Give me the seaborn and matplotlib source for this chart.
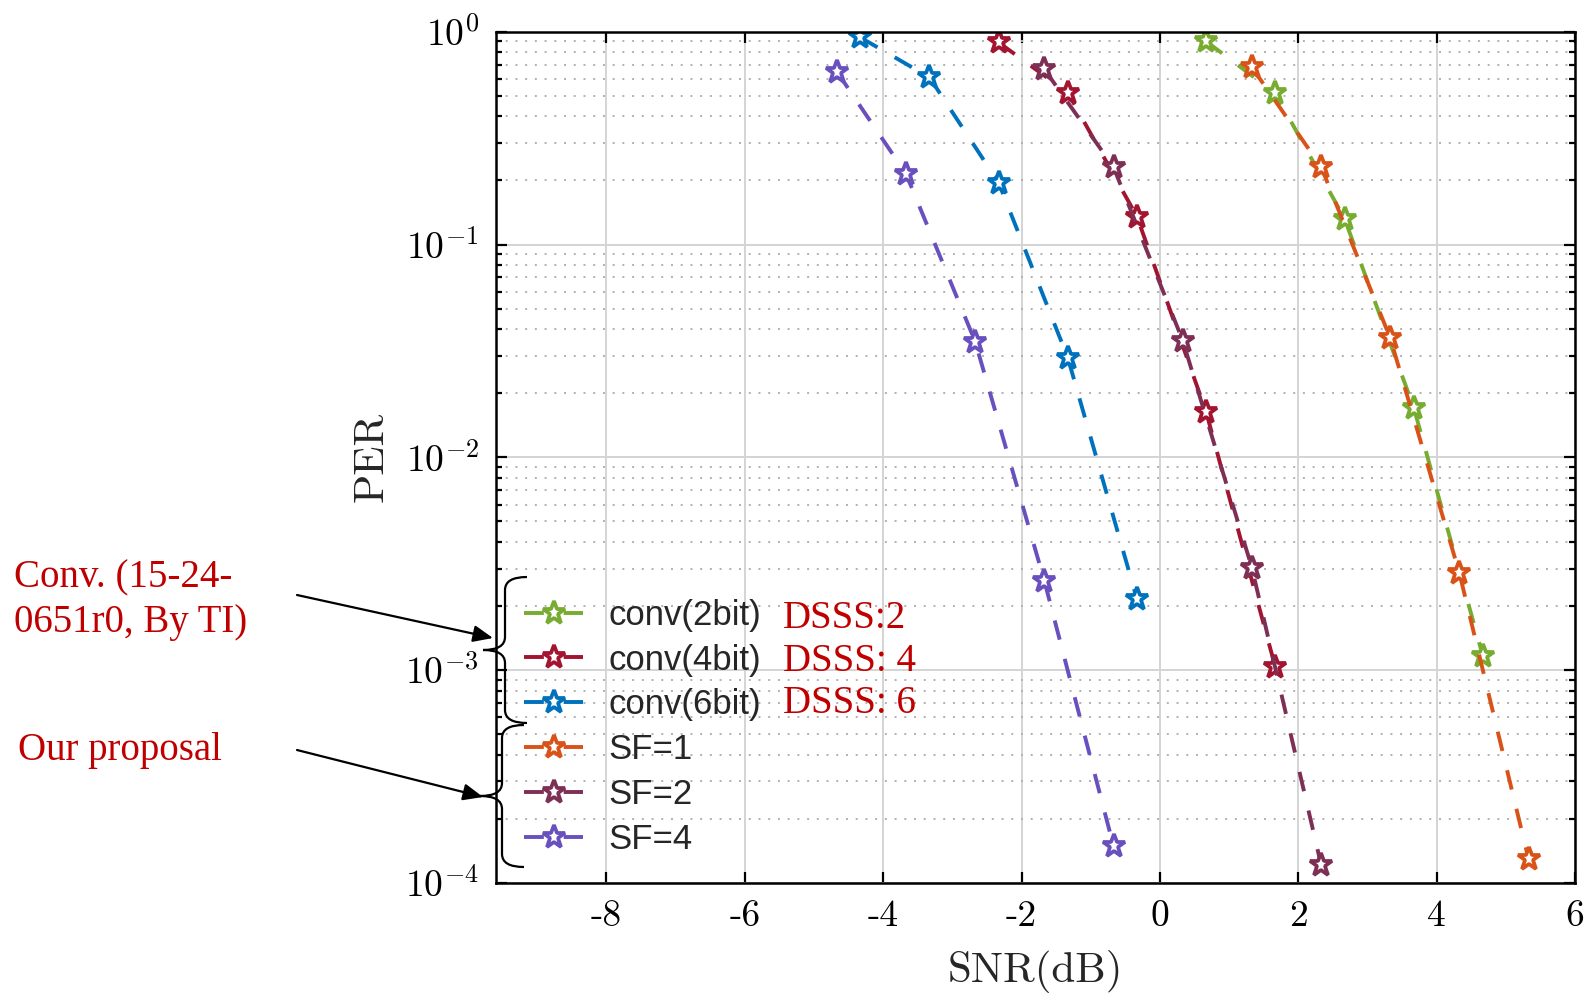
import numpy as np
import pandas as pd
import seaborn as sns
import matplotlib.pyplot as plt
from matplotlib.patches import FancyArrowPatch, PathPatch
from matplotlib.path import Path
from matplotlib.ticker import LogLocator, NullFormatter

# PER curves
snr_conv2 = [0.67, 1.67, 2.67, 3.67, 4.67]
per_conv2 = [0.90, 0.514, 0.132, 0.0171, 0.00116]
snr_conv4 = [-2.33, -1.33, -0.33, 0.67, 1.67]
per_conv4 = [0.89, 0.517, 0.135, 0.0163, 0.00103]
snr_conv6 = [-4.33, -3.33, -2.33, -1.33, -0.33]
per_conv6 = [0.94, 0.61, 0.195, 0.0293, 0.00215]
snr_sf1 = [1.33, 2.33, 3.33, 4.33, 5.33]
per_sf1 = [0.68, 0.232, 0.0363, 0.00285, 1.29e-4]
snr_sf2 = [-1.67, -0.67, 0.33, 1.33, 2.33]
per_sf2 = [0.666, 0.231, 0.0354, 0.00303, 1.22e-4]
snr_sf4 = [-4.67, -3.67, -2.67, -1.67, -0.67]
per_sf4 = [0.65, 0.215, 0.035, 0.00263, 1.49e-4]

series_names = ['conv(2bit)', 'conv(4bit)', 'conv(6bit)', 'SF=1', 'SF=2', 'SF=4']
series_snr = [snr_conv2, snr_conv4, snr_conv6, snr_sf1, snr_sf2, snr_sf4]
series_per = [per_conv2, per_conv4, per_conv6, per_sf1, per_sf2, per_sf4]
series_colors = ['#77AC30', '#A2142F', '#0072BD', '#D95319', '#7E2F55', '#6A50BE']

xticks = [-8, -6, -4, -2, 0, 2, 4, 6]
xtick_labels = ['-8', '-6', '-4', '-2', '0', '2', '4', '6']
yticks = [1e-4, 1e-3, 1e-2, 1e-1, 1e0]
ytick_labels = [r'$10^{-4}$', r'$10^{-3}$', r'$10^{-2}$', r'$10^{-1}$', r'$10^{0}$']

dsss_labels = ['DSSS:2', 'DSSS: 4', 'DSSS: 6']
note_conv = 'Conv. (15-24-\n0651r0, By TI)'
note_ours = 'Our proposal'

sns.set_style('ticks')
plt.rcParams['mathtext.fontset'] = 'cm'
plt.rcParams['axes.unicode_minus'] = False
plt.rcParams['font.family'] = ['DejaVu Sans']

W, H = 1588, 993
fig = plt.figure(figsize=(W / 100, H / 100), dpi=100)


def fx(px):
    return px / W


def fy(py):
    return 1 - py / H


ax = fig.add_axes([fx(495.7), fy(883), (1575 - 495.7) / W, (883 - 31.7) / H])
ax.set_yscale('log')

for name, x, y, c in zip(series_names, series_snr, series_per, series_colors):
    sns.lineplot(x=x, y=y, ax=ax, color=c, lw=2.8, linestyle=(0, (5.1, 5.1)),
                 marker='*', ms=17, mfc='white', mec=c, mew=2.7,
                 label=name, legend=False)

ax.set_xlim(-9.6, 6)
ax.set_ylim(1e-4, 1)
ax.set_xticks(xticks)
ax.set_xticklabels(xtick_labels, fontfamily='cmr10', fontsize=27)
ax.set_yticks(yticks)
ax.set_yticklabels(ytick_labels, fontsize=27)
ax.yaxis.set_minor_locator(LogLocator(base=10, subs=np.arange(2, 10)))
ax.yaxis.set_minor_formatter(NullFormatter())

ax.tick_params(which='both', direction='in', top=True, right=True,
               bottom=True, left=True, width=1.6, color='black', labelcolor='black')
ax.tick_params(which='major', length=8, pad=12)
ax.tick_params(which='minor', length=4.5)
ax.tick_params(axis='x', which='minor', bottom=False, top=False)
for sp in ax.spines.values():
    sp.set_visible(True)
    sp.set_linewidth(1.8)
    sp.set_color('black')

ax.grid(True, which='major', color='#d4d4d4', lw=1.4, ls='-')
ax.grid(True, which='minor', axis='y', color='#b0b0b0', lw=1.4, ls=(0, (1, 4)))
ax.set_axisbelow(True)

ax.set_xlabel('SNR(dB)', fontfamily='cmr10', fontsize=31, labelpad=12)
ax.set_ylabel('PER', fontfamily='cmr10', fontsize=31)
ax.yaxis.set_label_coords(-0.097, 0.5)

ax.legend(loc='center left', bbox_to_anchor=(0.026, 0.183), frameon=False,
          prop={'family': 'Liberation Sans', 'size': 25},
          handlelength=1.72, handletextpad=0.72, labelspacing=0.34,
          borderpad=0, borderaxespad=0)

red = '#C00000'
for lab, yb in zip(dsss_labels, [628, 671, 713]):
    fig.text(fx(783), fy(yb), lab, color=red, fontfamily='Liberation Serif',
             fontsize=28, va='baseline')

fig.text(fx(14), fy(559), note_conv, color=red, fontfamily='Liberation Serif',
         fontsize=28, va='top', linespacing=1.27)
fig.text(fx(18), fy(760), note_ours, color=red, fontfamily='Liberation Serif',
         fontsize=28, va='baseline')

# arrows from the notes to the braces
for x0, y0, x1, y1 in [(297, 595, 493, 638), (297, 750, 483, 797)]:
    fig.add_artist(FancyArrowPatch((fx(x0), fy(y0)), (fx(x1), fy(y1)),
                                   transform=fig.transFigure,
                                   arrowstyle='-|>,head_length=0.4,head_width=0.17',
                                   mutation_scale=30, lw=1.6, color='black',
                                   shrinkA=0, shrinkB=0))


def brace(x_tip, y_top, y_bot):
    xl = x_tip + 22
    xe = x_tip + 44
    ym = (y_top + y_bot) / 2
    r = 13
    pts = [(xe, y_top), (xl, y_top), (xl, y_top + r), (xl, ym - r),
           (xl, ym), (x_tip, ym), (xl, ym), (xl, ym + r), (xl, y_bot - r),
           (xl, y_bot), (xe, y_bot)]
    codes = [Path.MOVETO, Path.CURVE3, Path.CURVE3, Path.LINETO,
             Path.CURVE3, Path.CURVE3, Path.CURVE3, Path.CURVE3, Path.LINETO,
             Path.CURVE3, Path.CURVE3]
    verts = [(fx(a), fy(b)) for a, b in pts]
    return PathPatch(Path(verts, codes), transform=fig.transFigure,
                     fill=False, lw=1.6, color='black')


fig.add_artist(brace(483, 577, 723))
fig.add_artist(brace(480, 725, 867))

fig.savefig('out.png', dpi=100)
